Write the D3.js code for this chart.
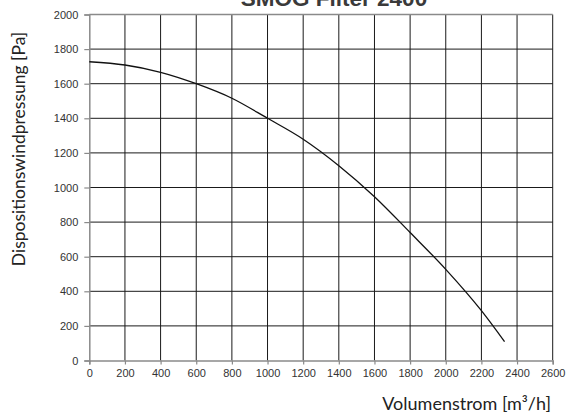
<!DOCTYPE html>
<html>
<head>
<meta charset="utf-8">
<script src="https://cdn.jsdelivr.net/npm/d3@7"></script>
<style>
  body { margin: 0; background: #fff; }
  svg { display: block; }
</style>
</head>
<body>
<script>
const w = 566, h = 417;

// fan curve
const flow = [0, 200, 400, 600, 800, 1000, 1200, 1400, 1600, 1800, 2000, 2200, 2330];
const pressure = [1727, 1708, 1666, 1600, 1516, 1400, 1279, 1126, 947, 740, 527, 288, 109];
const xTicks = [0, 200, 400, 600, 800, 1000, 1200, 1400, 1600, 1800, 2000, 2200, 2400, 2600];
const yTicks = [0, 200, 400, 600, 800, 1000, 1200, 1400, 1600, 1800, 2000];

const title = 'SMOG Filter 2400';
const xLabel = 'Volumenstrom [m³/h]';
const yLabel = 'Dispositionswindpressung [Pa]';

const svg = d3.select('body')
  .append('svg')
  .attr('width', w)
  .attr('height', h);

const xScale = d3.scaleLinear()
  .domain([0, 2600])
  .range([89.3, 552.7]);

const yScale = d3.scaleLinear()
  .domain([0, 2000])
  .range([360.5, 14.5]);

// grid
svg.append('g')
  .selectAll('line')
  .data(xTicks.slice(1))
  .join('line')
  .attr('x1', d => xScale(d)).attr('x2', d => xScale(d))
  .attr('y1', yScale(2000)).attr('y2', yScale(0))
  .attr('stroke', '#1a1a1a')
  .attr('stroke-width', 1);

svg.append('g')
  .selectAll('line')
  .data(yTicks.slice(1))
  .join('line')
  .attr('x1', xScale(0)).attr('x2', xScale(2600))
  .attr('y1', d => yScale(d)).attr('y2', d => yScale(d))
  .attr('stroke', d => d === 2000 ? '#8a8a8a' : '#1a1a1a')
  .attr('stroke-width', d => d === 2000 ? 1.5 : 1);

// axes
const xAxis = d3.axisBottom(xScale)
  .tickValues(xTicks)
  .tickFormat(d3.format('d'))
  .tickSize(4)
  .tickPadding(5);

const yAxis = d3.axisLeft(yScale)
  .tickValues(yTicks)
  .tickFormat(d3.format('d'))
  .tickSize(5)
  .tickPadding(6);

const gx = svg.append('g')
  .attr('transform', `translate(0, ${yScale(0)})`)
  .call(xAxis);

const gy = svg.append('g')
  .attr('transform', `translate(${xScale(0)}, 0)`)
  .call(yAxis);

[gx, gy].forEach(g => {
  g.attr('font-family', null).attr('font-size', null);
  g.select('.domain').attr('stroke', '#8a8a8a').attr('stroke-width', 1.5);
  g.selectAll('.tick line').attr('stroke', '#8a8a8a').attr('stroke-width', 1.2);
  g.selectAll('.tick text')
    .attr('fill', '#333')
    .style('font-family', '"Liberation Sans", Arial, sans-serif')
    .style('font-size', '11px');
});

// curve
const line = d3.line()
  .x((d, i) => xScale(flow[i]))
  .y(d => yScale(d))
  .curve(d3.curveMonotoneX);

svg.append('path')
  .datum(pressure)
  .attr('d', line)
  .attr('fill', 'none')
  .attr('stroke', '#111')
  .attr('stroke-width', 1.3);

// texts
svg.append('text')
  .attr('x', 334)
  .attr('y', 5.5)
  .attr('text-anchor', 'middle')
  .style('font-family', '"Liberation Sans", Arial, sans-serif')
  .style('font-weight', 'bold')
  .style('font-size', '22.5px')
  .attr('fill', '#3a3a3a')
  .text(title);

svg.append('text')
  .attr('x', 551)
  .attr('y', 410)
  .attr('text-anchor', 'end')
  .style('font-family', 'Lato, sans-serif')
  .style('font-size', '18px')
  .attr('fill', '#222')
  .text(xLabel);

svg.append('text')
  .attr('transform', 'translate(25, 149) rotate(-90)')
  .attr('text-anchor', 'middle')
  .style('font-family', 'Lato, sans-serif')
  .style('font-size', '17.5px')
  .attr('fill', '#222')
  .text(yLabel);
</script>
</body>
</html>
